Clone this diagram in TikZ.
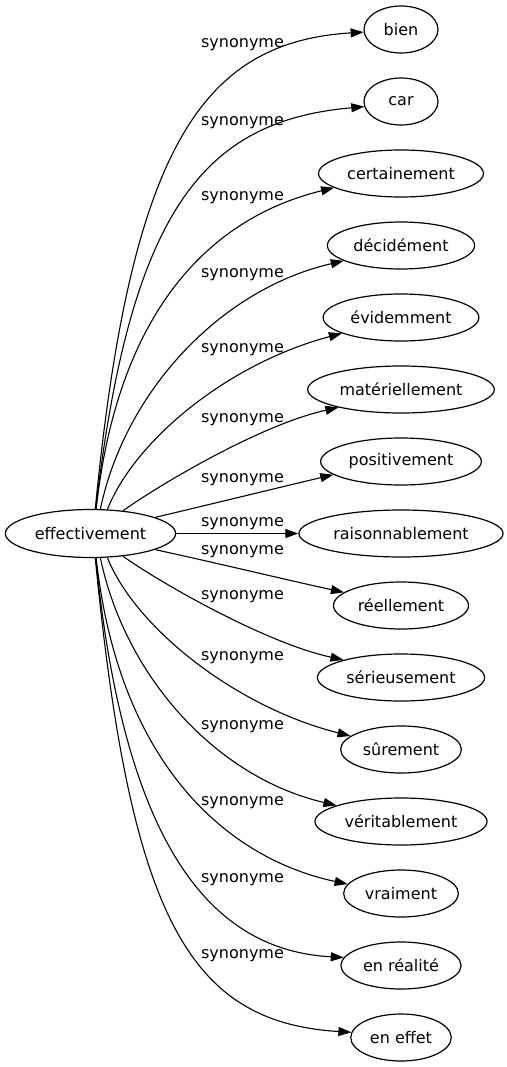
\documentclass[tikz,border=0pt]{standalone}
\usepackage{fontspec}
\setmainfont{DejaVu Sans}
\usetikzlibrary{arrows.meta,shapes.geometric}
\tikzset{
  word/.style    = {ellipse, draw, line width=1.2pt, inner xsep=4.5pt, inner ysep=2pt,
                    minimum width=74pt, minimum height=47pt,
                    font=\fontsize{16}{19}\selectfont},
  srcword/.style = {word, minimum height=48pt},
  syn/.style     = {-{Triangle[length=13pt,width=9pt]}, line width=1.1pt},
  synlab/.style  = {anchor=base, inner sep=0pt, font=\fontsize{16}{19}\selectfont},
}
% #1 target, #2 angle on source, #3 angle on target, #4 #5 controls, #6 label baseline
\newcommand{\synedge}[6]{%
  \draw[syn] (src.#2) .. controls +#4 and +#5 .. (#1.#3);
  \node[synlab] (#1lab) at (242.5,#6) {synonyme};
}
\begin{document}
\begin{tikzpicture}[x=1pt,y=1pt]
  \useasboundingbox (0,0) rectangle (506,-1067);

  \node[srcword] (src) at (90.5,-533.5) {effectivement};

  \node[word] (bien)     at (401,  -29.5) {bien};
  \node[word] (car)      at (401, -101.5) {car};
  \node[word] (certain)  at (401, -173.5) {certainement};
  \node[word] (decide)   at (401, -245.5) {décidément};
  \node[word] (evident)  at (401, -317.5) {évidemment};
  \node[word] (materiel) at (401, -389.5) {matériellement};
  \node[word] (positif)  at (401, -461.5) {positivement};
  \node[word] (raison)   at (401, -533.5) {raisonnablement};
  \node[word] (reel)     at (401, -605.5) {réellement};
  \node[word] (serieux)  at (401, -677.5) {sérieusement};
  \node[word] (sur)      at (401, -749.5) {sûrement};
  \node[word] (verit)    at (401, -821.5) {véritablement};
  \node[word] (vraiment) at (401, -893.5) {vraiment};
  \node[word] (realite)  at (401, -965.5) {en réalité};
  \node[word] (effet)    at (401,-1037.5) {en effet};

  \synedge{bien}    {79} {184}  {(35,359)} {(-163,-10)}{-47.5}
  \synedge{car}     {78} {188}  {(35,300)} {(-160,-14)}{-125.5}
  \synedge{certain} {77} {192}  {(23,209)} {(-115,-28)}{-200.5}
  \synedge{decide}  {68} {195}  {(25,119)} {(-122,-28)}{-277.5}
  \synedge{evident} {55} {195.5}{(28,70)}  {(-113,-30)}{-352.5}
  \synedge{materiel}{35} {196}  {(38,27)}  {(-77,-17)} {-422.5}
  \synedge{positif} {14} {191}  {(59,14)}  {(-59,-14)} {-482.5}
  \synedge{raison}  {0}  {180}  {(40,0)}   {(-40,0)}   {-526.5}
  \synedge{reel}    {-14}{167}  {(60,-13)} {(-60,13)}  {-554.5}
  \synedge{serieux} {-35}{163}  {(38,-27)} {(-78,17)}  {-599.5}
  \synedge{sur}     {-55}{165}  {(28,-70)} {(-115,29)} {-660.5}
  \synedge{verit}   {-68}{166}  {(25,-119)}{(-120,28)} {-729.5}
  \synedge{vraiment}{-77}{170}  {(23,-209)}{(-118,25)} {-805.5}
  \synedge{realite} {-78}{172}  {(29,-293)}{(-130,7)}  {-882.5}
  \synedge{effet}   {-79}{174}  {(35,-359)}{(-163,10)} {-958.5}
\end{tikzpicture}
\end{document}
